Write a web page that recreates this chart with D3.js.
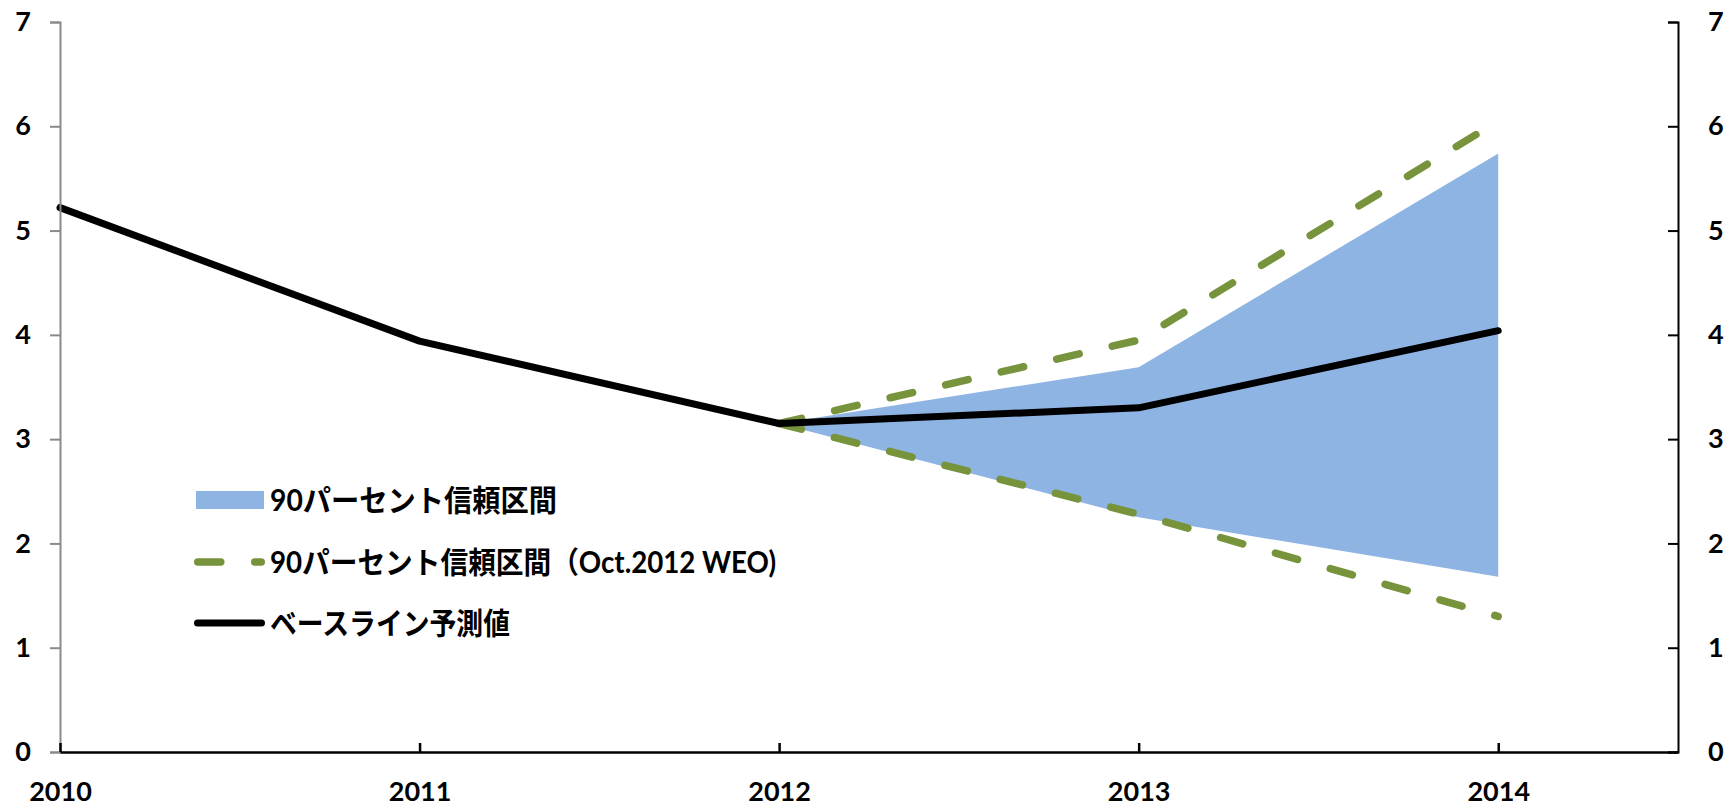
<!DOCTYPE html>
<html>
<head>
<meta charset="utf-8">
<script src="https://cdn.jsdelivr.net/npm/d3@7"></script>
<style>
  html, body { margin: 0; padding: 0; background: #ffffff; }
  svg { display: block; }
</style>
</head>
<body>
<svg id="chart" width="1729" height="808"></svg>
<script>
// ---- data ----
const years = [2010, 2011, 2012, 2013, 2014];
const baseline = [5.22, 3.94, 3.15, 3.30, 4.04];
const bandYears = [2012, 2013, 2014];
const bandUpper = [3.15, 3.69, 5.74];
const bandLower = [3.15, 2.25, 1.68];
const weoUpper = [3.15, 3.95, 6.05];
const weoLower = [3.15, 2.28, 1.30];
const yTicks = [0, 1, 2, 3, 4, 5, 6, 7];
const xTickLabels = ["2010", "2011", "2012", "2013", "2014"];
const legendLabels = ["90パーセント信頼区間", "90パーセント信頼区間（Oct.2012 WEO)", "ベースライン予測値"];

(function () {
// ---- layout ----
const mLeft = 60, mRight = 1678, mTop = 22, mBottom = 752;
const svg = d3.select("#chart");
const x = d3.scaleLinear().domain([2010, 2014.5]).range([mLeft, mRight]);
const y = d3.scaleLinear().domain([0, 7]).range([mBottom, mTop]);

const blue = "#8eb4e3", green = "#77933c";
const tickFont = "Lato, 'Noto Sans', sans-serif";
const legendFont = "Lato, 'Noto Sans CJK JP', sans-serif";

// ---- band ----
const bandData = bandYears.map((yr, i) => ({ yr, lo: bandLower[i], hi: bandUpper[i] }));
svg.append("path")
  .datum(bandData)
  .attr("fill", blue)
  .attr("d", d3.area().x(d => x(d.yr)).y0(d => y(d.lo)).y1(d => y(d.hi)));

// ---- WEO dashed lines ----
const line = d3.line().x(d => x(d[0])).y(d => y(d[1]));
[weoUpper, weoLower].forEach(arr => {
  svg.append("path")
    .datum(bandYears.map((yr, i) => [yr, arr[i]]))
    .attr("fill", "none")
    .attr("stroke", green)
    .attr("stroke-width", 7.5)
    .attr("stroke-linecap", "round")
    .attr("stroke-linejoin", "round")
    .attr("stroke-dasharray", "23 34")
    .attr("d", line);
});

// ---- baseline ----
svg.append("path")
  .datum(years.map((yr, i) => [yr, baseline[i]]))
  .attr("fill", "none")
  .attr("stroke", "#000")
  .attr("stroke-width", 7)
  .attr("stroke-linecap", "round")
  .attr("stroke-linejoin", "round")
  .attr("d", line);

// ---- axes ----
const gL = svg.append("g").attr("transform", `translate(${mLeft},0)`)
  .call(d3.axisLeft(y).tickValues(yTicks).tickSize(10).tickPadding(19).tickFormat(d3.format("d")));
gL.selectAll("path, line").attr("stroke", "#8a8a8a").attr("stroke-width", 2);

const gR = svg.append("g").attr("transform", `translate(${mRight},0)`)
  .call(d3.axisRight(y).tickValues(yTicks).tickSizeInner(-10).tickSizeOuter(-10).tickPadding(30).tickFormat(d3.format("d")));
gR.selectAll("path, line").attr("stroke", "#000").attr("stroke-width", 2);

const gB = svg.append("g").attr("transform", `translate(0,${mBottom})`)
  .call(d3.axisBottom(x).tickValues(years).tickSizeInner(-9).tickSizeOuter(0)
    .tickFormat((d, i) => xTickLabels[i]));
gB.selectAll("path, line").attr("stroke", "#000").attr("stroke-width", 2.5);
gB.selectAll("text").attr("y", 49).attr("dy", 0);

svg.selectAll("g text")
  .attr("font-family", tickFont)
  .attr("font-weight", "bold")
  .attr("font-size", 27)
  .attr("fill", "#000");

// ---- legend ----
const rows = [500, 562, 623];
const legendWidths = [287, 506, 240];
const lg = svg.append("g");
lg.append("rect").attr("x", 196).attr("y", rows[0] - 9).attr("width", 68).attr("height", 18).attr("fill", blue);
lg.append("line").attr("x1", 197.75).attr("x2", 261.25).attr("y1", rows[1]).attr("y2", rows[1])
  .attr("stroke", green).attr("stroke-width", 7.5).attr("stroke-linecap", "round").attr("stroke-dasharray", "23 34");
lg.append("line").attr("x1", 197.5).attr("x2", 261.5).attr("y1", rows[2]).attr("y2", rows[2])
  .attr("stroke", "#000").attr("stroke-width", 7).attr("stroke-linecap", "round");
lg.selectAll("text.leg").data(legendLabels).enter().append("text")
  .attr("class", "leg")
  .attr("x", 270)
  .attr("y", (d, i) => rows[i])
  .attr("dy", "0.36em")
  .attr("font-family", legendFont)
  .attr("font-weight", "bold")
  .attr("font-size", 30)
  .attr("fill", "#000")
  .attr("textLength", (d, i) => legendWidths[i])
  .attr("lengthAdjust", "spacingAndGlyphs")
  .text(d => d);
})();
</script>
</body>
</html>
